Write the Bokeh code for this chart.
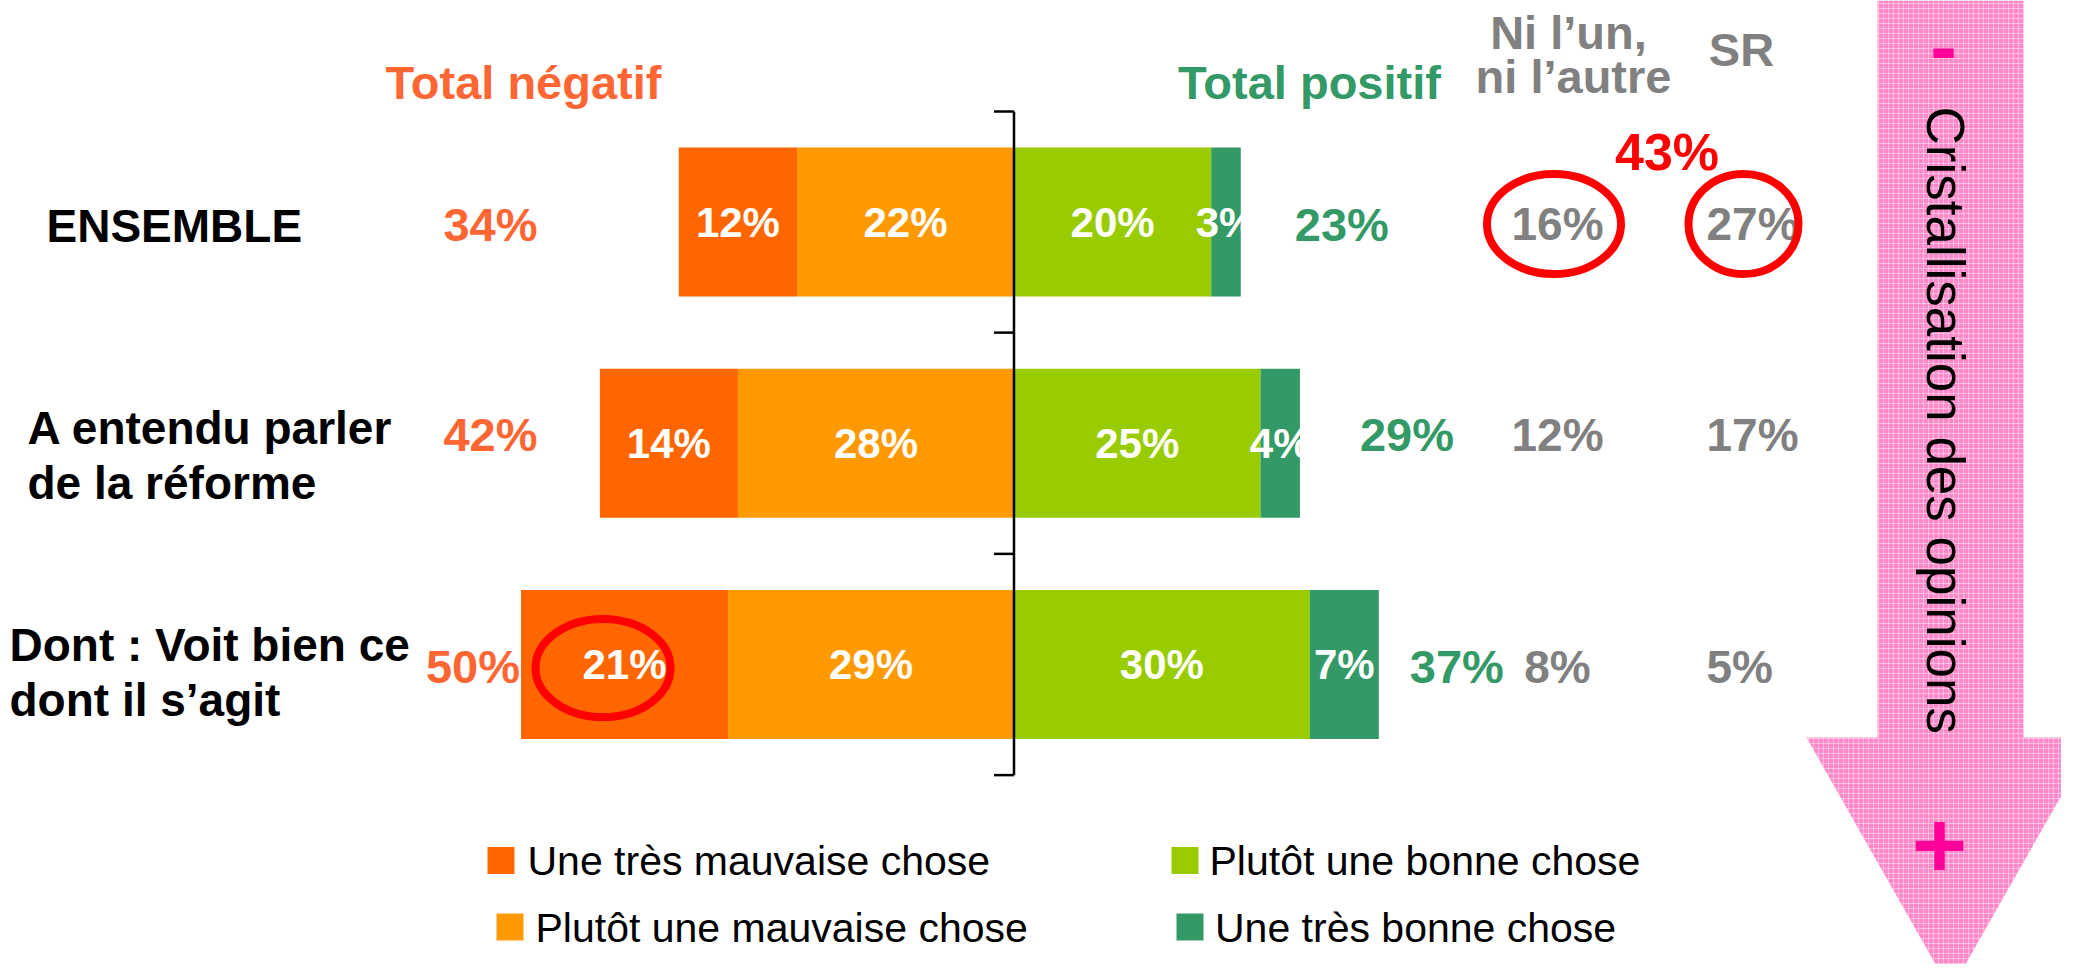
import math
from bokeh.plotting import figure
from bokeh.models import Range1d
from bokeh.core.properties import value
from bokeh.embed import file_html
from bokeh.resources import INLINE

# ---------------- data ----------------
categories = ["ENSEMBLE", "A entendu parler\nde la réforme", "Dont : Voit bien ce\ndont il s’agit"]
tres_mauvaise = [12, 14, 21]
plutot_mauvaise = [22, 28, 29]
plutot_bonne = [20, 25, 30]
tres_bonne = [3, 4, 7]
ni_lun = [16, 12, 8]
sr = [27, 17, 5]
series_names = ["Une très mauvaise chose", "Plutôt une mauvaise chose",
                "Plutôt une bonne chose", "Une très bonne chose"]
header_neg = "Total négatif"
header_pos = "Total positif"
header_ni = ["Ni l’un,", "ni l’autre"]
header_sr = "SR"
arrow_text = "Cristallisation des opinions"

# ---------------- styles ----------------
C_TM, C_PM, C_PB, C_TB = "#FF6600", "#FF9900", "#99CC00", "#339966"
C_NEG, C_POS, C_GRAY, C_RED, C_MAG = "#FF6633", "#339966", "#808080", "#FF0000", "#FF0099"
FONT = value("Liberation Sans")
BL = 0.355  # baseline correction (fraction of font size)

W, H, M = 2061, 964, 0
X0, SX = 1013.5, 9.86      # pixel of 0 %, pixels per %
Y0, SY = 221.5, 221.25     # pixel of first row centre, pixels per row


def dx(px):
    return (px - X0) / SX


def dy(py):
    return (py - Y0) / SY


def bl(fs):
    """row-unit shift that puts the alphabetic baseline where wanted"""
    return -BL * fs / SY


p = figure(width=W, height=H, x_range=Range1d(dx(M), dx(M + W)),
           y_range=Range1d(dy(M + H), dy(M)), x_axis_type=None, y_axis_type=None,
           toolbar_location=None, output_backend="svg", min_border=0,
           outline_line_color=None, background_fill_color="white",
           border_fill_color="white")

# ---------------- pink arrow ----------------
arrow_px = [(1877, 0), (2023, 0), (2023, 737), (2094, 737), (1950, 990),
            (1806, 737), (1877, 737)]
p.patch(x=[dx(a) for a, b in arrow_px], y=[dy(b) for a, b in arrow_px],
        fill_color="#FF88C8", line_color=None, hatch_pattern="+",
        hatch_color="white", hatch_alpha=0.42, hatch_scale=5, hatch_weight=1)
p.text(x=[dx(1926 + BL * 53)], y=[dy(106)], text=[arrow_text], angle=-math.pi / 2,
       text_font=FONT, text_font_size=value("53px"), text_color="black",
       text_align="left", text_baseline="alphabetic")
p.text(x=[dx(1943)], y=[dy(74 - BL * 80)], text=["-"],
       text_font=FONT, text_font_style="bold", text_font_size=value("80px"),
       text_color=C_MAG, text_align="center", text_baseline="alphabetic")
p.text(x=[dx(1939)], y=[dy(877 - BL * 95)], text=["+"],
       text_font=FONT, text_font_style="bold", text_font_size=value("95px"),
       text_color=C_MAG, text_align="center", text_baseline="alphabetic")

# ---------------- bars ----------------
rows = list(range(len(categories)))
bar_h = 149 / SY
neg_total = [a + b for a, b in zip(tres_mauvaise, plutot_mauvaise)]
pos_total = [a + b for a, b in zip(plutot_bonne, tres_bonne)]

p.hbar(y=rows, left=[-t for t in neg_total], right=[-b for b in plutot_mauvaise],
       height=bar_h, fill_color=C_TM, line_color=None)
p.hbar(y=rows, left=[-b for b in plutot_mauvaise], right=[0] * 3,
       height=bar_h, fill_color=C_PM, line_color=None)
p.hbar(y=rows, left=[0] * 3, right=plutot_bonne,
       height=bar_h, fill_color=C_PB, line_color=None)
p.hbar(y=rows, left=plutot_bonne, right=pos_total,
       height=bar_h, fill_color=C_TB, line_color=None)

# centre axis with ticks
bounds = [r - 0.5 for r in rows] + [rows[-1] + 0.5]
p.segment(x0=[0], y0=[bounds[0]], x1=[0], y1=[bounds[-1]], line_color="black", line_width=2.5)
p.segment(x0=[0] * len(bounds), y0=bounds, x1=[-20 / SX] * len(bounds), y1=bounds,
          line_color="black", line_width=2.5)

# segment labels
lab_x, lab_y, lab_t = [], [], []
for i in rows:
    segs = [(-neg_total[i], -plutot_mauvaise[i], tres_mauvaise[i]),
            (-plutot_mauvaise[i], 0, plutot_mauvaise[i]),
            (0, plutot_bonne[i], plutot_bonne[i]),
            (plutot_bonne[i], pos_total[i], tres_bonne[i])]
    for l, r, v in segs:
        lab_x.append((l + r) / 2)
        lab_y.append(i + 15 / SY + bl(42))
        lab_t.append(f"{v}%")
p.text(x=lab_x, y=lab_y, text=lab_t, text_font=FONT, text_font_style="bold",
       text_font_size=value("42px"), text_color="white", text_align="center",
       text_baseline="alphabetic")

# side values
FS = 47
side_off = [19 / SY, 8 / SY, 19 / SY]
side_y = [r + o + bl(FS) for r, o in zip(rows, side_off)]
p.text(x=[min(dx(537), -t - 0.1) for t in neg_total], y=side_y,
       text=[f"{t}%" for t in neg_total], text_font=FONT, text_font_style="bold",
       text_font_size=value(f"{FS}px"), text_color=C_NEG, text_align="right",
       text_baseline="alphabetic")
pos_gap = [54, 60, 31]
p.text(x=[t + g / SX for t, g in zip(pos_total, pos_gap)], y=side_y,
       text=[f"{t}%" for t in pos_total], text_font=FONT, text_font_style="bold",
       text_font_size=value(f"{FS}px"), text_color=C_POS, text_align="left",
       text_baseline="alphabetic")
ni_x = dx(1557)
sr_x = dx(1706)
p.text(x=[ni_x] * 3, y=side_y,
       text=[f"{v}%" for v in ni_lun], text_font=FONT, text_font_style="bold",
       text_font_size=value("46px"), text_color=C_GRAY, text_align="center",
       text_baseline="alphabetic")
p.text(x=[sr_x] * 3, y=side_y,
       text=[f"{v}%" for v in sr], text_font=FONT, text_font_style="bold",
       text_font_size=value("46px"), text_color=C_GRAY, text_align="left",
       text_baseline="alphabetic")

# highlight ellipses
p.ellipse(x=[ni_x - 3.5 / SX, sr_x + 37 / SX, -neg_total[2] + 82 / SX],
          y=[dy(223.5), dy(223.5), dy(667.5)],
          width=[134 / SX, 110 / SX, 135 / SX], height=[100 / SY, 100 / SY, 98 / SY],
          fill_color=None, line_color=C_RED, line_width=8)
p.text(x=[dx(1666.5)], y=[dy(170) + bl(52)], text=[f"{ni_lun[0] + sr[0]}%"], text_font=FONT,
       text_font_style="bold", text_font_size=value("52px"), text_color=C_RED,
       text_align="center", text_baseline="alphabetic")

# headers
HF = 47
p.text(x=[dx(523)], y=[dy(99) + bl(HF)], text=[header_neg], text_font=FONT, text_font_style="bold",
       text_font_size=value(f"{HF}px"), text_color=C_NEG, text_align="center",
       text_baseline="alphabetic")
p.text(x=[dx(1309)], y=[dy(99) + bl(HF)], text=[header_pos], text_font=FONT, text_font_style="bold",
       text_font_size=value(f"{HF}px"), text_color=C_POS, text_align="center",
       text_baseline="alphabetic")
p.text(x=[dx(1568), dx(1573)], y=[dy(49) + bl(HF), dy(93) + bl(HF)], text=header_ni, text_font=FONT,
       text_font_style="bold", text_font_size=value(f"{HF}px"), text_color=C_GRAY,
       text_align="center", text_baseline="alphabetic")
p.text(x=[dx(1741)], y=[dy(66) + bl(HF)], text=[header_sr], text_font=FONT, text_font_style="bold",
       text_font_size=value(f"{HF}px"), text_color=C_GRAY, text_align="center",
       text_baseline="alphabetic")

# row labels
row_left = [46, 27, 9]
row_first = [20.5, 1, -3]
cx, cy, ct = [], [], []
for i, cat in enumerate(categories):
    for k, line in enumerate(cat.split("\n")):
        cx.append(dx(row_left[i]))
        cy.append(i + (row_first[i] + 55 * k) / SY + bl(46))
        ct.append(line)
p.text(x=cx, y=cy, text=ct, text_font=FONT, text_font_style="bold",
       text_font_size=value("46px"), text_color="black", text_align="left",
       text_baseline="alphabetic")

# legend
leg_colors = [C_TM, C_PM, C_PB, C_TB]
leg_sq = [(500.5, 860), (509.5, 926.5), (1184.5, 860), (1189.5, 926.5)]
leg_tx = [(527, 875), (535, 942), (1209, 875), (1214.5, 942)]
p.rect(x=[dx(a) for a, b in leg_sq], y=[dy(b) for a, b in leg_sq], width=27, height=27,
       width_units="screen", height_units="screen", fill_color=leg_colors, line_color=None)
p.text(x=[dx(a) for a, b in leg_tx], y=[dy(b) + bl(41) for a, b in leg_tx], text=series_names,
       text_font=FONT, text_font_size=value("41px"), text_color="black",
       text_align="left", text_baseline="alphabetic")

open("out.html", "w").write(file_html(p, INLINE))
